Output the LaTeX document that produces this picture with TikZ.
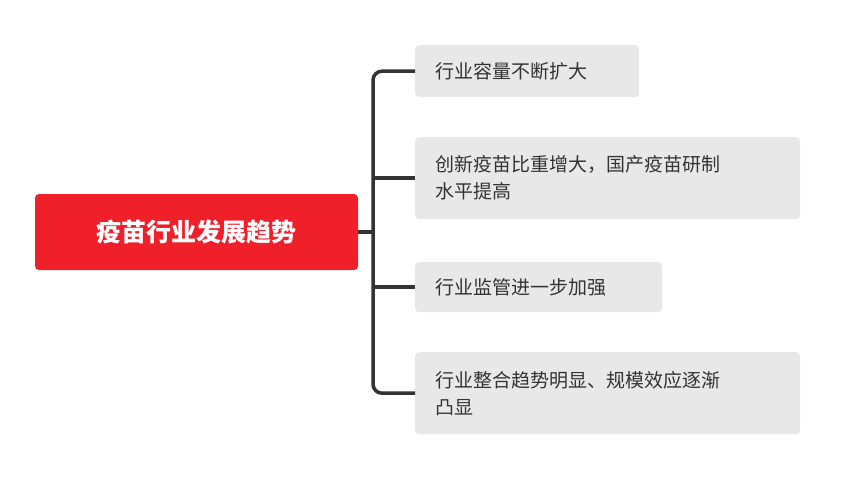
\documentclass[tikz,border=0pt]{standalone}
\usepackage{fontspec}
\setmainfont{Noto Sans CJK SC}
\begin{document}
\begin{tikzpicture}[x=1pt,y=-1pt,
  leaf/.style={fill=leafgray,rounded corners=4pt,anchor=north west,inner sep=0pt},
  conn/.style={draw=linegray,line width=3.5pt,rounded corners=9pt}]
\definecolor{leafgray}{HTML}{E8E8E8}
\definecolor{rootred}{HTML}{F0202B}
\definecolor{linegray}{HTML}{333333}
\definecolor{txt}{HTML}{333333}
\useasboundingbox (0,0) rectangle (854,482);
\node[fill=rootred,rounded corners=4pt,minimum width=323pt,minimum height=76pt,inner sep=0pt,text=white,font=\bfseries\fontsize{25}{30}\selectfont] (root) at (196.5,232) {疫苗行业发展趋势};
\node[leaf,minimum width=224pt,minimum height=52pt] (c1) at (415,45) {};
\node[leaf,minimum width=385pt,minimum height=82pt] (c2) at (415,137) {};
\node[leaf,minimum width=247pt,minimum height=50pt] (c3) at (415,262) {};
\node[leaf,minimum width=385pt,minimum height=82pt] (c4) at (415,352) {};
\begin{scope}[every node/.style={anchor=west,text=txt,font=\fontsize{19}{27}\selectfont,align=left,inner sep=0pt}]
\node (t1) at ([xshift=20pt]c1.west) {行业容量不断扩大};
\node (t2) at ([xshift=20pt]c2.west) {创新疫苗比重增大，国产疫苗研制\\水平提高};
\node (t3) at ([xshift=20pt]c3.west) {行业监管进一步加强};
\node (t4) at ([xshift=20pt]c4.west) {行业整合趋势明显、规模效应逐渐\\凸显};
\end{scope}
\coordinate (tr) at (373,232);
\draw[conn] (c1.west) -| (tr) |- (c4.west);
\draw[conn,rounded corners=0pt] (root.east) -- (tr);
\draw[conn] (c2.west) -- (c2.west -| tr);
\draw[conn] (c3.west) -- (c3.west -| tr);
\end{tikzpicture}
\end{document}
